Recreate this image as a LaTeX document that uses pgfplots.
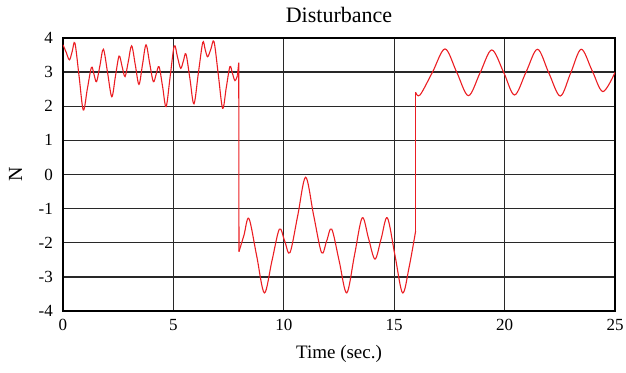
\documentclass[border=0pt]{standalone}
\usepackage{fontspec}
\setmainfont{Liberation Serif}
\usepackage{pgfplots}
\pgfplotsset{compat=1.18}
\definecolor{curve}{RGB}{235,30,35}
\definecolor{gridc}{RGB}{40,40,40}
\begin{document}
\begin{tikzpicture}
\useasboundingbox (-63pt,-61pt) rectangle (563pt,311pt);
\begin{axis}[
  at={(0pt,0pt)}, anchor=south west,
  scale only axis, width=552pt, height=273pt,
  xmin=0, xmax=25, ymin=-4, ymax=4,
  xtick={0,5,...,25}, ytick={-4,-3,...,4},
  grid=major,
  major grid style={gridc, line width=1.3pt},
  axis line style={black, line width=1.8pt},
  major tick length=0pt,
  tick label style={font=\fontsize{17}{17}\selectfont, inner sep=0pt},
  /pgf/number format/assume math mode=true,
  xticklabel style={anchor=base, yshift=-19pt},
  yticklabel style={anchor=east, xshift=-10pt},
  title={Disturbance},
  title style={font=\fontsize{22}{22}\selectfont, at={(axis description cs:0.5,1)}, anchor=south, yshift=9pt, inner sep=0pt},
  xlabel={Time (sec.)},
  xlabel style={font=\fontsize{19}{19}\selectfont, at={(axis description cs:0.5,0)}, anchor=base, yshift=-47pt, inner sep=0pt},
  ylabel={N},
  ylabel style={font=\fontsize{20}{20}\selectfont, at={(axis description cs:-0.086,0.5)}, anchor=center, inner sep=0pt},
]
\addplot[curve, line width=1.1pt, smooth, tension=0.55] coordinates {
(0,3.80) (0.145,3.58) (0.29,3.36) (0.415,3.60) (0.54,3.85) (0.73,2.87) (0.92,1.89)
(1.105,2.52) (1.29,3.14) (1.405,2.93) (1.52,2.72) (1.675,3.20) (1.83,3.67) (2.02,2.98)
(2.21,2.28) (2.375,2.88) (2.54,3.47) (2.675,3.17) (2.81,2.87) (2.96,3.32) (3.11,3.77)
(3.275,3.21) (3.44,2.64) (3.60,3.22) (3.76,3.80) (3.925,3.26) (4.09,2.72) (4.22,2.94)
(4.35,3.16) (4.51,2.58) (4.67,1.99) (4.855,2.88) (5.04,3.77) (5.185,3.44) (5.33,3.11)
(5.45,3.32) (5.57,3.53) (5.75,2.80) (5.93,2.07) (6.13,2.97) (6.33,3.87) (6.44,3.66)
(6.55,3.45) (6.695,3.67) (6.84,3.89) (7.035,2.92) (7.23,1.94) (7.395,2.55) (7.56,3.16)
(7.675,2.96) (7.79,2.75) (7.90,2.90)
};
\addplot[curve, line width=1.1pt] coordinates {(7.90,2.90) (7.96,3.28) (7.97,-2.26)};
\addplot[curve, line width=1.1pt, smooth, tension=0.55] coordinates {
(7.97,-2.26) (8.195,-1.78) (8.42,-1.29) (8.77,-2.38) (9.12,-3.47) (9.46,-2.54)
(9.80,-1.60) (10.04,-1.95) (10.28,-2.29) (10.635,-1.19) (10.99,-0.08) (11.35,-1.19)
(11.71,-2.29) (11.94,-1.95) (12.17,-1.60) (12.51,-2.54) (12.85,-3.47) (13.2,-2.37)
(13.55,-1.27) (13.84,-1.88) (14.13,-2.48) (14.41,-1.88) (14.69,-1.27) (15.035,-2.37)
(15.38,-3.47) (15.68,-2.70) (15.97,-1.66)
};
\addplot[curve, line width=1.1pt] coordinates {(15.97,-1.66) (15.97,2.41)};
\addplot[curve, line width=1.1pt, smooth, tension=0.55] coordinates {
(15.97,2.41) (16.17,2.33) (16.735,3.0) (17.30,3.68) (17.83,3.0) (18.36,2.31)
(18.89,2.98) (19.42,3.65) (19.96,2.99) (20.45,2.33) (20.97,3.0) (21.49,3.67)
(22.0,2.98) (22.52,2.30) (22.995,2.98) (23.47,3.67) (23.96,3.05) (24.45,2.43) (25,2.99)
};
\end{axis}
\end{tikzpicture}
\end{document}
